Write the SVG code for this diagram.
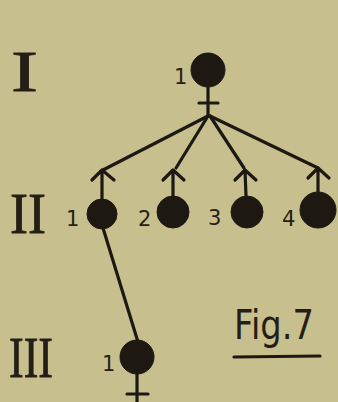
<svg xmlns="http://www.w3.org/2000/svg" width="338" height="402" viewBox="0 0 338 402">
<style>
.ink{stroke:#1d1912;stroke-width:3.2;fill:none;stroke-linecap:round;stroke-linejoin:round}
.dot{fill:#1d1912;stroke:#1d1912;stroke-width:1}
.rn{font-family:"Liberation Serif",serif;font-size:56px;fill:#241e16;stroke:#241e16;stroke-width:0.8}
.num{font-family:"DejaVu Sans",sans-serif;font-size:21px;fill:#241e16}
.fig{font-family:"DejaVu Sans",sans-serif;font-size:40px;fill:#241e16}
</style>
<rect width="338" height="402" fill="#c8bf8e"/>
<text class="rn" x="11" y="91" textLength="27" lengthAdjust="spacingAndGlyphs">I</text>
<text class="rn" x="10" y="233" textLength="36" lengthAdjust="spacingAndGlyphs">II</text>
<text class="rn" x="9" y="377" textLength="44" lengthAdjust="spacingAndGlyphs">III</text>
<g id="connectors">
<path class="ink" d="M208,116 L103,170"/>
<path class="ink" d="M208,116 L176,168"/>
<path class="ink" d="M210,116 L244,168"/>
<path class="ink" d="M210,116 L318,168"/>
<path class="ink" d="M103,228 L138,342"/>
</g>
<g id="n1">
<circle class="dot" cx="208" cy="70" r="17"/>
<path class="ink" d="M208,86 L208,116 M199,103 L218,103"/>
<text class="num" x="174" y="84">1</text>
</g>
<g id="n2-1">
<circle class="dot" cx="102" cy="214" r="15"/>
<path class="ink" d="M102,199 L102,170 M92,180 L102,170 L114,180"/>
<text class="num" x="66" y="226">1</text>
</g>
<g id="n2-2">
<circle class="dot" cx="173" cy="212" r="16"/>
<path class="ink" d="M173,196 L173,170 M163,180 L173,170 L184,180"/>
<text class="num" x="138" y="226">2</text>
</g>
<g id="n2-3">
<circle class="dot" cx="247" cy="212" r="16"/>
<path class="ink" d="M246,196 L245,170 M235,180 L245,170 L256,180"/>
<text class="num" x="208" y="225">3</text>
</g>
<g id="n2-4">
<circle class="dot" cx="318" cy="210" r="18"/>
<path class="ink" d="M318,192 L318,168 M308,178 L318,168 L329,178"/>
<text class="num" x="282" y="226">4</text>
</g>
<g id="n3-1">
<circle class="dot" cx="137" cy="357" r="17"/>
<path class="ink" d="M137,373 L137,402 M127,394 L148,394"/>
<text class="num" x="102" y="371">1</text>
</g>
<text class="fig" x="234" y="339" textLength="80" lengthAdjust="spacingAndGlyphs">Fig.7</text>
<path class="ink" d="M234,357 L320,356"/>
</svg>
